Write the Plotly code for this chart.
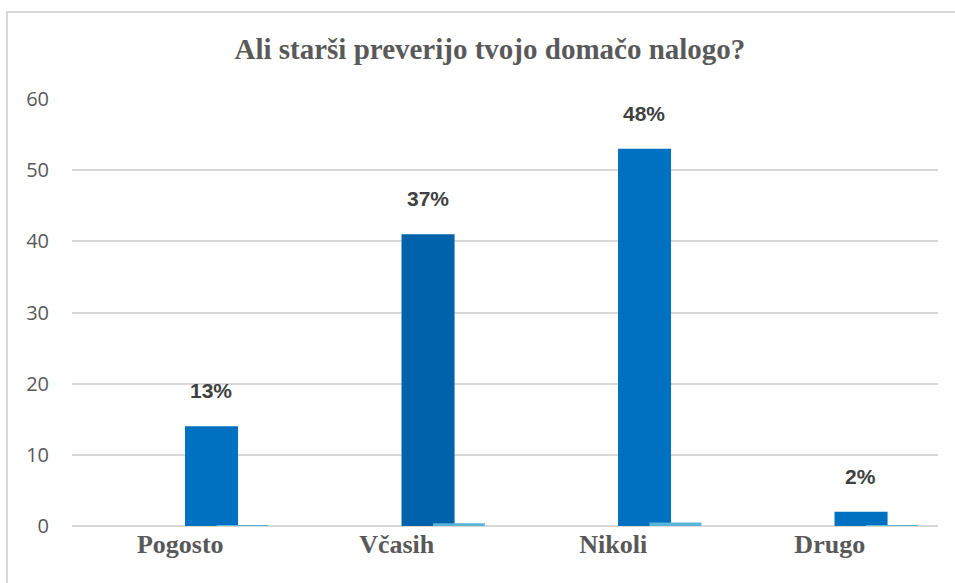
import plotly.graph_objects as go

categories = ["Pogosto", "Včasih", "Nikoli", "Drugo"]
counts = [14, 41, 53, 2]
shares = [0.13, 0.37, 0.48, 0.02]
share_labels = ["13%", "37%", "48%", "2%"]

fig = go.Figure()
fig.add_trace(go.Bar(x=categories, y=counts, offset=0.022, width=0.245,
                     marker=dict(color=["#0070c0", "#0062aa", "#0070c0", "#0070c0"], line_width=0),
                     showlegend=False))
fig.add_trace(go.Bar(x=categories, y=shares, offset=0.167, width=0.24,
                     marker=dict(color="#5ab4d6", line_width=0), showlegend=False))

for cat, val, lab in zip(categories, counts, share_labels):
    fig.add_annotation(x=cat, y=val, text=lab, showarrow=False, xshift=31, yshift=22,
                       yanchor="bottom",
                       font=dict(family="Liberation Sans", size=21, color="#404040", weight="bold"))

# chart frame: only the left and top edges fall inside the window
fig.add_shape(type="rect", xref="paper", yref="paper", x0=-65 / 866, x1=1.1, y0=-0.3, y1=1 + 87 / 427,
              line=dict(color="#d9d9d9", width=2), fillcolor="rgba(0,0,0,0)", layer="below")

fig.update_layout(
    width=955, height=583,
    margin=dict(l=72, r=17, t=99, b=57),
    paper_bgcolor="white", plot_bgcolor="white",
    barmode="overlay",
    title=dict(text="Ali starši preverijo tvojo domačo nalogo?", x=0.513, xanchor="center",
               y=0.917, yanchor="middle",
               font=dict(family="Liberation Serif", size=29, color="#595959", weight="bold")),
    xaxis=dict(showgrid=False, showline=False, ticks="", zeroline=False,
               tickfont=dict(family="Liberation Serif", size=26, color="#595959", weight="bold")),
    yaxis=dict(range=[0, 60], dtick=10, showgrid=True, gridcolor="#d9d9d9", gridwidth=1.5,
               zeroline=True, zerolinecolor="#d9d9d9", zerolinewidth=1.5, showline=False, ticks="",
               ticklabelstandoff=22,
               tickfont=dict(family="Open Sans", size=20, color="#595959")),
)

fig.write_html("out.html", config={"displayModeBar": False},
               post_script="document.body.style.margin='0';")
